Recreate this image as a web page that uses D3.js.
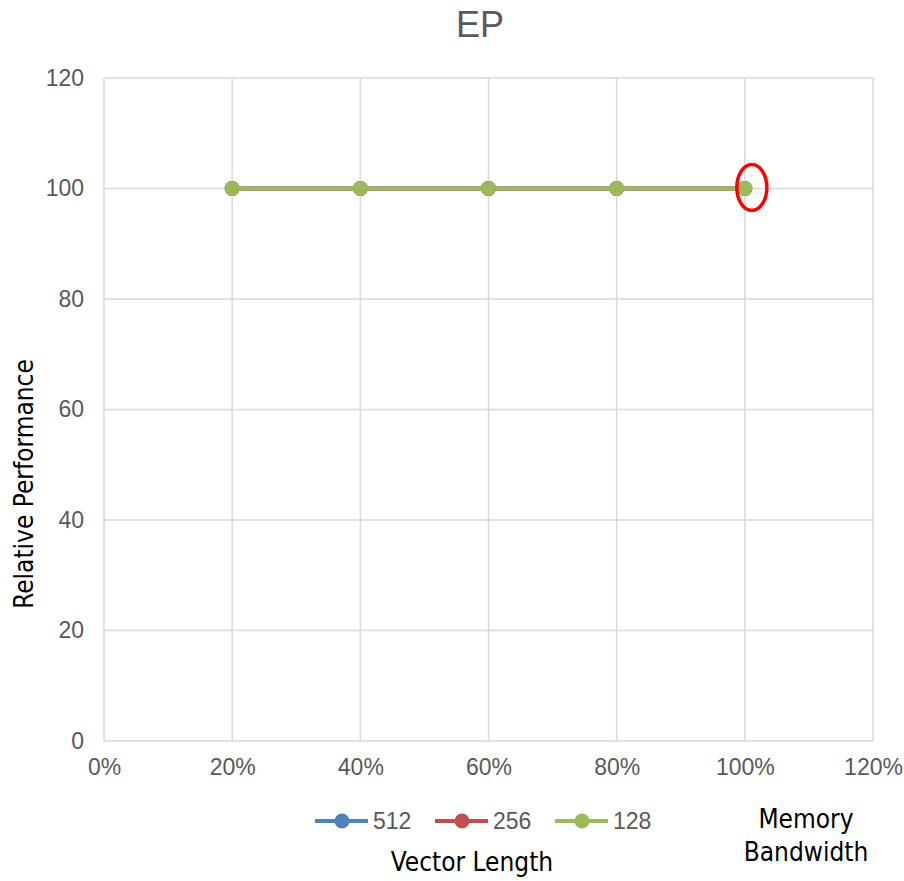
<!DOCTYPE html>
<html>
<head>
<meta charset="utf-8">
<script src="https://cdn.jsdelivr.net/npm/d3@7"></script>
<style>
  body { margin: 0; background: #fff; }
  text { font-family: "Liberation Sans", Arial, sans-serif; }
  .cond { font-family: "DejaVu Sans Condensed", "Liberation Sans Narrow", sans-serif; }
</style>
</head>
<body>
<div id="chart"></div>
<script>
// chart data
var bandwidth = [0.2, 0.4, 0.6, 0.8, 1.0];
var seriesNames = ["512", "256", "128"];
var perf512 = [100, 100, 100, 100, 100];
var perf256 = [100, 100, 100, 100, 100];
var perf128 = [100, 100, 100, 100, 100];
var colors = ["#4f81bd", "#c0504d", "#9bbb59"];
var xTicks = [0, 0.2, 0.4, 0.6, 0.8, 1.0, 1.2];
var yTicks = [0, 20, 40, 60, 80, 100, 120];

var svgWidth = 904;
var svgHeight = 881;
var margin = { top: 78, right: 31, bottom: 140, left: 104 };
var width = 873 - margin.left;
var height = 741 - margin.top;

var svg = d3.select("#chart").append("svg")
  .attr("width", svgWidth)
  .attr("height", svgHeight);

var chartGroup = svg.append("g")
  .attr("transform", `translate(${margin.left}, ${margin.top})`);

var xScale = d3.scaleLinear().domain([0, 1.2]).range([0, width]);
var yScale = d3.scaleLinear().domain([0, 120]).range([height, 0]);

// grid lines
chartGroup.append("g").selectAll("line")
  .data(xTicks).enter().append("line")
  .attr("x1", d => xScale(d)).attr("x2", d => xScale(d))
  .attr("y1", 0).attr("y2", height)
  .attr("stroke", "#d9d9d9").attr("stroke-width", 1.5);

chartGroup.append("g").selectAll("line")
  .data(yTicks).enter().append("line")
  .attr("x1", 0).attr("x2", width)
  .attr("y1", d => yScale(d)).attr("y2", d => yScale(d))
  .attr("stroke", "#d9d9d9").attr("stroke-width", 1.5);

// axes (labels only)
var bottomAxis = d3.axisBottom(xScale).tickValues(xTicks).tickFormat(d3.format(".0%")).tickSize(0).tickPadding(18);
var leftAxis = d3.axisLeft(yScale).tickValues(yTicks).tickSize(0).tickPadding(20);

var xAxis = chartGroup.append("g")
  .attr("transform", `translate(0, ${height})`)
  .call(bottomAxis);
var yAxis = chartGroup.append("g").call(leftAxis);

[xAxis, yAxis].forEach(function(ax) {
  ax.select(".domain").remove();
  ax.selectAll("text")
    .attr("fill", "#595959")
    .style("font-size", "23px")
    .style("font-family", "Liberation Sans, Arial, sans-serif");
});

// series
var allSeries = [perf512, perf256, perf128];
var line = d3.line()
  .x((d, i) => xScale(bandwidth[i]))
  .y(d => yScale(d));

allSeries.forEach(function(vals, s) {
  var g = chartGroup.append("g");
  g.append("path")
    .datum(vals)
    .attr("d", line)
    .attr("fill", "none")
    .attr("stroke", colors[s])
    .attr("stroke-width", 4);
  g.selectAll("circle")
    .data(vals).enter().append("circle")
    .attr("cx", (d, i) => xScale(bandwidth[i]))
    .attr("cy", d => yScale(d))
    .attr("r", 7.5)
    .attr("fill", colors[s]);
});

// red highlight ellipse around the last point
chartGroup.append("ellipse")
  .attr("cx", xScale(bandwidth[4]) + 7)
  .attr("cy", yScale(perf128[4]) - 1)
  .attr("rx", 15)
  .attr("ry", 23)
  .attr("fill", "none")
  .attr("stroke", "#ff0000")
  .attr("stroke-width", 3.5);

// title
svg.append("text")
  .attr("x", 480).attr("y", 37)
  .attr("text-anchor", "middle")
  .attr("fill", "#595959")
  .style("font-size", "36px")
  .text("EP");

// y label
svg.append("text")
  .attr("class", "cond")
  .attr("transform", "translate(33, 484) rotate(-90)")
  .attr("text-anchor", "middle")
  .attr("fill", "#000")
  .style("font-size", "26px")
  .text("Relative Performance");

// legend
var legend = svg.append("g");
var legendX = [315, 435, 555];
seriesNames.forEach(function(name, i) {
  var lg = legend.append("g").attr("transform", `translate(${legendX[i]}, 821)`);
  lg.append("line").attr("x1", 0).attr("x2", 53).attr("y1", 0).attr("y2", 0)
    .attr("stroke", colors[i]).attr("stroke-width", 4);
  lg.append("circle").attr("cx", 27).attr("cy", 0).attr("r", 7.5).attr("fill", colors[i]);
  lg.append("text").attr("x", 58).attr("y", 8)
    .attr("fill", "#595959").style("font-size", "23px").text(name);
});

svg.append("text")
  .attr("class", "cond")
  .attr("x", 472).attr("y", 871)
  .attr("text-anchor", "middle")
  .style("font-size", "26px")
  .text("Vector Length");

var mb = svg.append("text")
  .attr("class", "cond")
  .attr("text-anchor", "middle")
  .style("font-size", "26px");
mb.append("tspan").attr("x", 806).attr("y", 828).text("Memory");
mb.append("tspan").attr("x", 806).attr("y", 861).text("Bandwidth");
</script>
</body>
</html>
